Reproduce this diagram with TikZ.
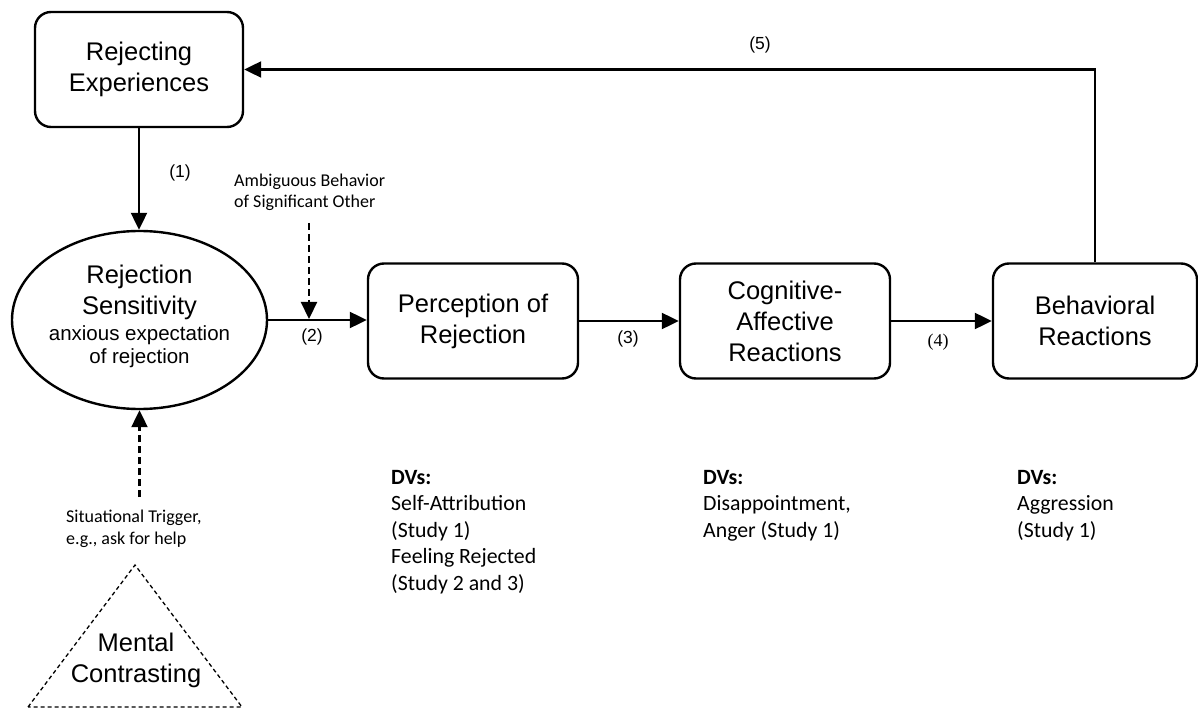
\documentclass[tikz,border=0pt]{standalone}
\usepackage{fontspec}
\setmainfont{Liberation Sans}
\newfontfamily\calfont{Carlito}
\newfontfamily\serfont{Liberation Serif}
\usetikzlibrary{shapes.geometric,arrows.meta}
\newcommand\bigf{\fontsize{25.5}{31}\selectfont}
\newcommand\subf{\fontsize{20.5}{23}\selectfont}
\newcommand\lblf{\fontsize{17.5}{20}\selectfont}
\newcommand\notef{\calfont\fontsize{18}{21.5}\selectfont}
\newcommand\dvf{\calfont\fontsize{21.8}{26.5}\selectfont}
\begin{document}
\begin{tikzpicture}[x=1pt,y=-1pt,
  box/.style={draw, line width=2.4pt, rounded corners=16pt, minimum height=115pt,
    align=center, font=\bigf, inner sep=0pt},
  ell/.style={draw, ellipse, line width=2.4pt, minimum width=255pt, minimum height=178pt, inner sep=0pt},
  arr/.style={line width=2.2pt, -{Triangle[length=17pt,width=16pt]}},
  dasharr/.style={arr, dash pattern=on 7pt off 4pt},
  lbl/.style={font=\lblf, inner sep=0pt},
  note/.style={font=\notef, align=left, inner sep=0pt, anchor=west},
  dv/.style={font=\dvf, align=left, inner sep=0pt, anchor=north west}]
\useasboundingbox (0,0) rectangle (1198,708);

% main nodes
\node[box, minimum width=208pt] (re) at (139,69.5) {Rejecting\\Experiences};
\node[ell] (rs) at (139.5,320) {};
\node[font=\bigf, align=center, inner sep=0pt] (rst) at (139.5,292) {Rejection\\Sensitivity};
\node[font=\subf, align=center, inner sep=0pt] (rss) at (139.5,347) {anxious expectation\\of rejection};
\node[box, minimum width=210pt] (pr) at (473,321) {Perception of\\Rejection};
\node[box, minimum width=210pt] (ca) at (785,321) {Cognitive-\\Affective\\Reactions};
\node[box, minimum width=204pt] (br) at (1095,321) {Behavioral\\Reactions};

% solid connectors
\draw[arr] (re.south) -- (re.south |- rs.north);
\draw[arr] (rs.east) -- (rs.east -| pr.west);
\draw[arr] (pr.east) -- (ca.west);
\draw[arr] (ca.east) -- (br.west);
\draw[arr] (br.north) |- (re.east);

% connector labels
\node[lbl] (l1) at (180,173) {(1)};
\node[lbl] (l2) at (312,337) {(2)};
\node[lbl] (l3) at (628,339) {(3)};
\node[lbl, font=\serfont\fontsize{18}{20}\selectfont] (l4) at (938,342) {(4)};
\node[lbl] (l5) at (760,45) {(5)};

% ambiguous behaviour
\node[note] (amb) at (234,192.5) {Ambiguous Behavior\\of Significant Other};
\coordinate (ambtop) at (309,223);
\coordinate (ambend) at (309,319);
\draw[dasharr] (ambtop) -- (ambend);

% situational trigger
\node[note] (sit) at (66,529) {Situational Trigger,\\e.g., ask for help};
\coordinate (sittop) at (139.5,497);
\draw[dasharr] (sittop) -- (rs.south);

% mental contrasting triangle
\draw[line width=1.3pt, dash pattern=on 4pt off 3pt] (28,707) -- (135,565) -- (242,707) -- cycle;
\node[font=\bigf, align=center, inner sep=0pt] (mc) at (136,660) {Mental\\Contrasting};

% DVs
\node[dv] (dv1) at (391,470) {\textbf{DVs:}\\Self-Attribution\\(Study 1)\\Feeling Rejected\\(Study 2 and 3)};
\node[dv] (dv2) at (703,470) {\textbf{DVs:}\\Disappointment,\\Anger (Study 1)};
\node[dv] (dv3) at (1017,470) {\textbf{DVs:}\\Aggression\\(Study 1)};
\end{tikzpicture}
\end{document}
